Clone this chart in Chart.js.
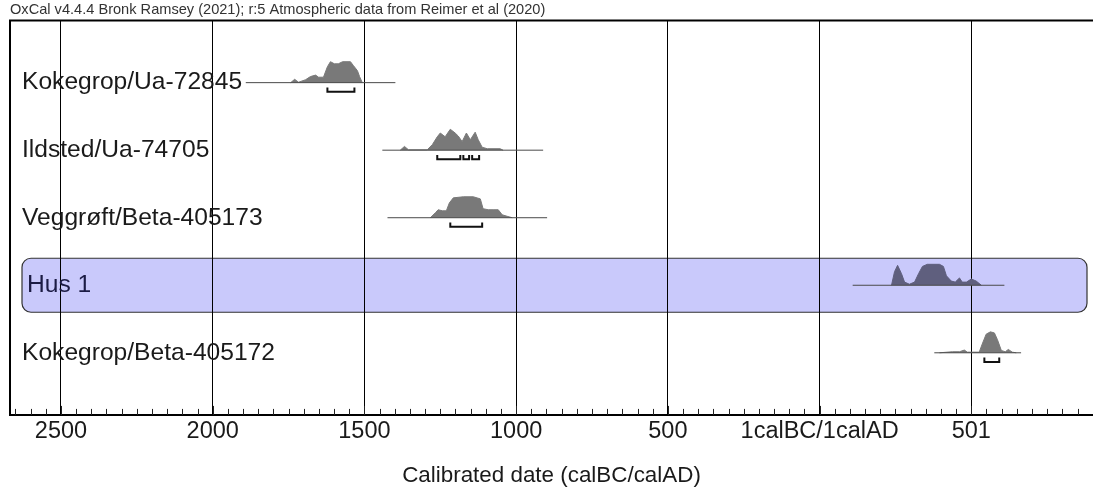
<!DOCTYPE html>
<html>
<head>
<meta charset="utf-8">
<script src="https://cdn.jsdelivr.net/npm/chart.js@4.4.1/dist/chart.umd.min.js"></script>
<style>
  body { margin: 0; background: #fff; }
  canvas { display: block; }
</style>
</head>
<body>
<canvas id="oxcal" width="1093" height="493"></canvas>
<script>
// header + axis texts
const headerText = "OxCal v4.4.4 Bronk Ramsey (2021); r:5 Atmospheric data from Reimer et al (2020)";
const axisTitle = "Calibrated date (calBC/calAD)";

// x axis: years (negative = BC, 0 = 1calBC/1calAD boundary)
const tickValues = [-2500, -2000, -1500, -1000, -500, 0, 500];
const tickLabels = ["2500", "2000", "1500", "1000", "500", "1calBC/1calAD", "501"];

// rows, top to bottom
const rowNames = ["Kokegrop/Ua-72845", "Ildsted/Ua-74705", "Veggrøft/Beta-405173", "Hus 1", "Kokegrop/Beta-405172"];
const boxedRow = 4;

// probability distributions (relative density, max = 100)
const years1 = [-1743, -1730, -1717, -1694, -1678, -1661, -1651, -1635, -1622, -1612, -1599, -1586, -1572, -1546, -1536, -1523, -1516, -1507];
const dens1 = [0, 16, 2, 14, 29, 36, 26, 26, 76, 100, 90, 90, 100, 100, 81, 57, 29, 0];

const years2 = [-1382, -1368, -1355, -1293, -1276, -1260, -1250, -1234, -1217, -1201, -1191, -1178, -1164, -1151, -1135, -1125, -1112, -1095, -1053, -1043];
const dens2 = [0, 18, 2, 2, 27, 64, 82, 64, 100, 82, 68, 41, 82, 50, 86, 50, 14, 7, 7, 0];

const years3 = [-1283, -1266, -1257, -1243, -1230, -1220, -1207, -1174, -1141, -1118, -1109, -1092, -1076, -1059, -1046, -1030, -1013];
const dens3 = [0, 24, 38, 33, 33, 71, 95, 100, 100, 90, 43, 38, 38, 38, 14, 7, 0];

const years4 = [237, 247, 257, 270, 280, 296, 313, 326, 339, 355, 395, 408, 418, 434, 447, 461, 470, 484, 500, 516, 533];
const dens4 = [0, 65, 95, 55, 15, 5, 15, 55, 90, 100, 100, 90, 45, 20, 15, 35, 15, 15, 30, 20, 0];

const years5 = [395, 438, 461, 477, 487, 526, 536, 549, 563, 576, 586, 599, 612, 622, 635, 648];
const dens5 = [0, 5, 5, 13, 3, 3, 42, 89, 100, 95, 63, 11, 5, 16, 3, 0];

// plotted range of each row
const ranges = [[-1891, -1398], [-1441, -911], [-1424, -898], [109, 609], [378, 664]];

// 95.4% ranges (brackets under the curves)
const brackets = [
  [[-1622, -1533]],
  [[-1260, -1184], [-1174, -1155], [-1145, -1122]],
  [[-1217, -1112]],
  [],
  [[543, 592]]
];

const allYears = [years1, years2, years3, years4, years5];
const allDens = [dens1, dens2, dens3, dens4, dens5];

const peak = 0.31;
const font = "'Liberation Sans', Arial, sans-serif";

var datasets = [];

for (let i = 0; i < rowNames.length; i++) {
  const row = i + 1;
  const boxed = row === boxedRow;
  datasets.push({
    data: allYears[i].map((y, j) => ({ x: y, y: row - allDens[i][j] / 100 * peak })),
    borderColor: boxed ? "#5f5f7e" : "#797979",
    backgroundColor: boxed ? "#5f5f7e" : "#797979",
    borderWidth: 1,
    pointRadius: 0,
    fill: { value: row },
    order: 3,
  });
  datasets.push({
    data: [{ x: ranges[i][0], y: row }, { x: ranges[i][1], y: row }],
    borderColor: "#4a4a4a",
    borderWidth: 1,
    pointRadius: 0,
    fill: false,
    order: 2,
  });
  if (brackets[i].length) {
    var pts = [];
    brackets[i].forEach((b) => {
      pts.push({ x: b[0], y: row + 0.07 }, { x: b[0], y: row + 0.135 },
               { x: b[1], y: row + 0.135 }, { x: b[1], y: row + 0.07 },
               { x: b[1], y: null });
    });
    datasets.push({
      data: pts,
      borderColor: "#111",
      borderWidth: 2,
      pointRadius: 0,
      fill: false,
      spanGaps: false,
      order: 1,
    });
  }
}

const oxcalDecor = {
  id: "oxcalDecor",
  beforeDraw(chart) {
    const ctx = chart.ctx;
    const a = chart.chartArea;
    const ys = chart.scales.y;
    const top = ys.getPixelForValue(boxedRow - 0.4);
    const bottom = ys.getPixelForValue(boxedRow + 0.4);
    ctx.save();
    ctx.beginPath();
    ctx.roundRect(a.left + 12, top, a.right - a.left - 18, bottom - top, 9);
    ctx.fillStyle = "#c9c9fb";
    ctx.fill();
    ctx.lineWidth = 1.2;
    ctx.strokeStyle = "#333";
    ctx.stroke();
    ctx.restore();
  },
  afterDraw(chart) {
    const ctx = chart.ctx;
    const a = chart.chartArea;
    const xs = chart.scales.x;
    const ys = chart.scales.y;
    ctx.save();
    // frame: top and left
    ctx.strokeStyle = "#000";
    ctx.lineWidth = 2;
    ctx.beginPath();
    ctx.moveTo(a.left, a.bottom);
    ctx.lineTo(a.left, a.top);
    ctx.lineTo(a.right, a.top);
    ctx.stroke();
    // minor ticks every 50 years
    ctx.lineWidth = 1;
    ctx.strokeStyle = "#222";
    ctx.beginPath();
    for (let v = Math.ceil(xs.min / 50) * 50; v <= xs.max; v += 50) {
      const px = Math.round(xs.getPixelForValue(v)) + 0.5;
      ctx.moveTo(px, a.bottom);
      ctx.lineTo(px, a.bottom - (v % 500 === 0 ? 9 : 6));
    }
    ctx.stroke();
    // row labels
    ctx.font = "24.6px " + font;
    ctx.textBaseline = "middle";
    rowNames.forEach((name, i) => {
      ctx.fillStyle = i + 1 === boxedRow ? "#1c1c44" : "#1a1a1a";
      ctx.fillText(name, a.left + (i + 1 === boxedRow ? 17 : 12), ys.getPixelForValue(i + 1));
    });
    ctx.restore();
  },
};

var chart = new Chart(document.getElementById("oxcal"), {
  type: "line",
  data: { datasets: datasets },
  plugins: [oxcalDecor],
  options: {
    responsive: false,
    animation: false,
    layout: { padding: { left: 10, right: 0, top: 0, bottom: 0 } },
    plugins: {
      legend: { display: false },
      tooltip: { enabled: false },
      title: {
        display: true,
        text: headerText,
        align: "start",
        color: "#333",
        font: { family: font, size: 14.6, weight: "normal" },
        padding: { top: 1, bottom: 2 },
      },
    },
    scales: {
      x: {
        type: "linear",
        min: -2668,
        max: 901,
        afterBuildTicks: (scale) => {
          scale.ticks = tickValues.map((v) => ({ value: v }));
        },
        ticks: {
          callback: (v) => tickLabels[tickValues.indexOf(v)],
          color: "#1a1a1a",
          font: { family: font, size: 23.5 },
          padding: 2,
          maxRotation: 0,
          autoSkip: false,
        },
        grid: { color: "#000", lineWidth: 1, drawTicks: false },
        border: { color: "#000", width: 2 },
        title: {
          display: true,
          text: axisTitle,
          color: "#1a1a1a",
          font: { family: font, size: 22.4 },
          padding: { top: 15, bottom: 4 },
        },
      },
      y: {
        type: "linear",
        display: false,
        reverse: true,
        min: 0.08,
        max: 5.92,
      },
    },
  },
});
</script>
</body>
</html>
